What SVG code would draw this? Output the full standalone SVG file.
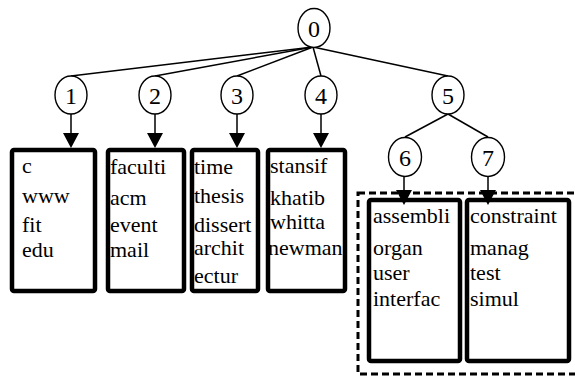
<svg xmlns="http://www.w3.org/2000/svg" width="575" height="376" viewBox="0 0 575 376">
<defs>
<style>
.n ellipse{fill:#fff;stroke:#000;stroke-width:1.4}
.n text{font-size:24px;text-anchor:middle;fill:#000}
.b rect{fill:#fff;stroke:#000;stroke-width:4.5}
.b text{font-size:22px;fill:#000}
.e line{stroke:#000;stroke-width:1.5}
.e polygon{fill:#000}
</style>
</defs>
<rect x="0" y="0" width="575" height="376" fill="#fff"/>
<rect id="group" x="358" y="193" width="222" height="181" fill="none" stroke="#000" stroke-width="3" stroke-dasharray="7,4"/>
<g font-family="Liberation Serif, DejaVu Serif, serif">
<g id="box1" class="b"><rect x="12" y="150" width="83" height="141" rx="2"/>
<text x="22" y="173">c</text><text x="22" y="203">www</text><text x="22" y="232">fit</text><text x="22" y="257">edu</text></g>
<g id="box2" class="b"><rect x="108" y="150" width="76" height="141" rx="2"/>
<text x="110" y="174">faculti</text><text x="110" y="205">acm</text><text x="110" y="232">event</text><text x="110" y="257">mail</text></g>
<g id="box3" class="b"><rect x="192" y="150" width="66" height="141" rx="2"/>
<text x="194" y="174">time</text><text x="194" y="203">thesis</text><text x="194" y="232">dissert</text><text x="194" y="255">archit</text><text x="194" y="283">ectur</text></g>
<g id="box4" class="b"><rect x="268" y="150" width="77" height="141" rx="2"/>
<text x="270" y="173">stansif</text><text x="270" y="205">khatib</text><text x="270" y="229">whitta</text><text x="268" y="255">newman</text></g>
<g id="box6" class="b"><rect x="369" y="200" width="91" height="161" rx="2"/>
<text x="373" y="223">assembli</text><text x="373" y="255">organ</text><text x="373" y="280">user</text><text x="373" y="306">interfac</text></g>
<g id="box7" class="b"><rect x="467" y="200" width="102" height="161" rx="2"/>
<text x="470" y="223">constraint</text><text x="470" y="255">manag</text><text x="470" y="280">test</text><text x="470" y="306">simul</text></g>
<g id="connectors" class="e">
<line x1="313" y1="47" x2="71" y2="76"/>
<line x1="313" y1="47" x2="155" y2="76"/>
<line x1="313" y1="47" x2="237" y2="76"/>
<line x1="313" y1="47" x2="321" y2="76"/>
<line x1="313" y1="47" x2="448" y2="76"/>
<line x1="448" y1="114" x2="405" y2="137"/>
<line x1="448" y1="114" x2="488" y2="137"/>
<line x1="71" y1="114" x2="71" y2="134"/><polygon points="63,133 79,133 71,148"/>
<line x1="155" y1="114" x2="155" y2="134"/><polygon points="147,133 163,133 155,148"/>
<line x1="237" y1="114" x2="237" y2="134"/><polygon points="229,133 245,133 237,148"/>
<line x1="321" y1="114" x2="321" y2="134"/><polygon points="313,133 329,133 321,148"/>
<line x1="404" y1="176" x2="404" y2="191"/><polygon points="396,190 412,190 404,205"/>
<line x1="488" y1="176" x2="488" y2="191"/><polygon points="480,190 496,190 488,205"/>
</g>
<g id="n0" class="n"><ellipse cx="314" cy="28" rx="16" ry="19.5"/><text x="314" y="37">0</text></g>
<g id="n1" class="n"><ellipse cx="71" cy="95" rx="16" ry="19"/><text x="71" y="104">1</text></g>
<g id="n2" class="n"><ellipse cx="155" cy="95" rx="16" ry="19"/><text x="155" y="104">2</text></g>
<g id="n3" class="n"><ellipse cx="237" cy="95" rx="16" ry="19"/><text x="237" y="104">3</text></g>
<g id="n4" class="n"><ellipse cx="321" cy="95" rx="16" ry="19"/><text x="321" y="104">4</text></g>
<g id="n5" class="n"><ellipse cx="448" cy="95" rx="16" ry="19"/><text x="448" y="104">5</text></g>
<g id="n6" class="n"><ellipse cx="405" cy="157" rx="16.5" ry="19.5"/><text x="405" y="166">6</text></g>
<g id="n7" class="n"><ellipse cx="488" cy="157" rx="16.5" ry="19.5"/><text x="488" y="166">7</text></g>
</g>
</svg>
